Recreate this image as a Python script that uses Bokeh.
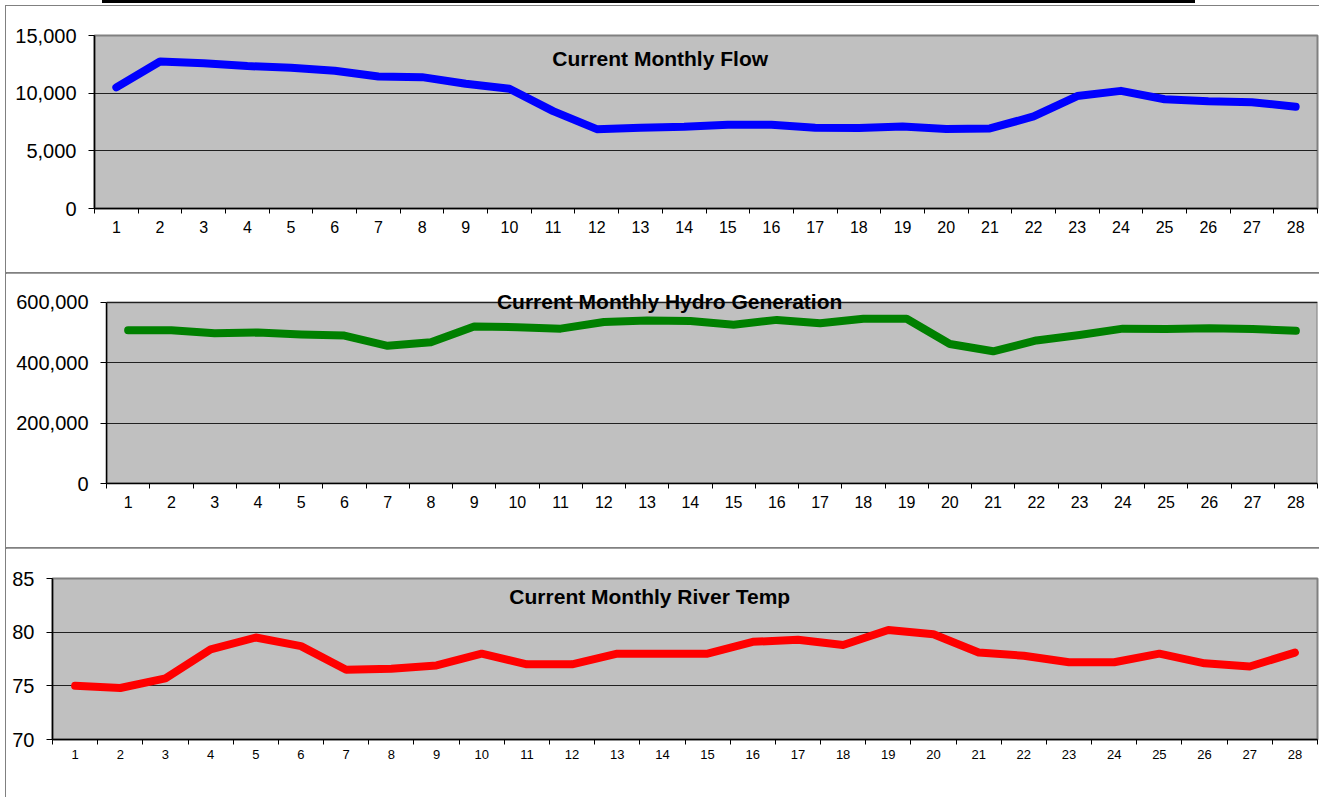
from bokeh.plotting import figure
from bokeh.models import Range1d, FixedTicker, NumeralTickFormatter, Label, ColumnDataSource, Div
from bokeh.embed import file_html
from bokeh.resources import INLINE

# ---------------- data ----------------
months = list(range(1, 29))
flow = [10500, 12750, 12600, 12350, 12200, 11950, 11450, 11390, 10810, 10380,
        8440, 6880, 7000, 7080, 7260, 7260, 7000, 6970, 7110, 6900,
        6940, 7980, 9750, 10200, 9470, 9300, 9220, 8820]
hydro = [508000, 508000, 498000, 500000, 494000, 490000, 456000, 468000, 520000, 518000,
         513000, 535000, 540000, 538000, 526000, 542000, 531000, 546000, 546000, 462000,
         438000, 474000, 492000, 513000, 512000, 514000, 512000, 506000]
temp = [75.0, 74.8, 75.7, 78.4, 79.5, 78.7, 76.5, 76.6, 76.9, 78.0,
        77.0, 77.0, 78.0, 78.0, 78.0, 79.1, 79.3, 78.8, 80.2, 79.8,
        78.1, 77.8, 77.2, 77.2, 78.0, 77.1, 76.8, 78.1]

titles = ["Current Monthly Flow", "Current Monthly Hydro Generation", "Current Monthly River Temp"]
y_ticks_flow = [0, 5000, 10000, 15000]
y_ticks_hydro = [0, 200000, 400000, 600000]
y_ticks_temp = [70, 75, 80, 85]

FONT = "Liberation Sans"
BG = "#C0C0C0"
BORDER = "#808080"


def make_panel(values, color, yticks, title, title_x, title_y, height,
               b_left, b_top, b_bottom, xfont, yfmt, y_end=None, extra_styles=None,
               x_standoff=7):
    src = ColumnDataSource(dict(x=months, y=values))
    y0, y1 = yticks[0], yticks[-1]
    p = figure(width=1313, height=height, output_backend="svg", toolbar_location=None,
               x_range=Range1d(0.5, len(months) + 0.5),
               y_range=Range1d(y0, y_end if y_end is not None else y1),
               min_border_left=b_left, min_border_right=2,
               min_border_top=b_top, min_border_bottom=b_bottom)
    p.border_fill_color = "white"
    styles = {"margin-left": "6px", "outline": "1px solid " + BORDER}
    if extra_styles:
        styles.update(extra_styles)
    p.styles = styles

    if y_end is None:
        p.background_fill_color = BG
        p.outline_line_color = BORDER
        p.outline_line_width = 2
    else:
        # plot area is only part of the frame: room for the title on top
        p.background_fill_color = "white"
        p.outline_line_color = None
        p.quad(left=[0.5], right=[len(months) + 0.5], bottom=[y0], top=[y1],
               fill_color=BG, line_color=BORDER, line_width=2, level="image")

    p.line("x", "y", source=src, line_color=color, line_width=8,
           line_cap="round", line_join="round")

    # x axis: labels at category centers, ticks at category boundaries
    p.xaxis.ticker = FixedTicker(ticks=months,
                                 minor_ticks=[m - 0.5 for m in months] + [months[-1] + 0.5])
    p.xaxis.major_tick_out = 0
    p.xaxis.major_tick_in = 0
    p.xaxis.minor_tick_out = 5
    p.xaxis.minor_tick_in = 0
    p.xaxis.minor_tick_line_color = "black"
    p.xaxis.axis_line_color = "black"
    p.xaxis.axis_line_width = 1.5
    p.xaxis.major_label_text_font = FONT
    p.xaxis.major_label_text_font_size = xfont
    p.xaxis.major_label_text_color = "black"
    p.xaxis.major_label_standoff = x_standoff
    p.xgrid.visible = False

    p.yaxis.ticker = FixedTicker(ticks=yticks)
    p.yaxis.bounds = (y0, y1)
    p.yaxis.formatter = NumeralTickFormatter(format=yfmt)
    p.yaxis.major_tick_out = 6
    p.yaxis.major_tick_in = 0
    p.yaxis.minor_tick_line_color = None
    p.yaxis.axis_line_color = "black"
    p.yaxis.axis_line_width = 1.5
    p.yaxis.major_tick_line_color = "black"
    p.yaxis.major_label_text_font = FONT
    p.yaxis.major_label_text_font_size = "20px"
    p.yaxis.major_label_text_color = "black"
    p.yaxis.major_label_standoff = 12
    p.ygrid.ticker = FixedTicker(ticks=yticks)
    p.ygrid.grid_line_color = "#202020"
    p.ygrid.grid_line_width = 1

    p.add_layout(Label(x=title_x, y=title_y, text=title, text_font=FONT,
                       text_font_size="21px", text_font_style="bold",
                       text_color="black", text_align="center", text_baseline="middle"))
    return p


top_bar = Div(text="", width=1093, height=3, margin=(0, 0, 0, 102),
              styles={"background-color": "black"})

p1 = make_panel(flow, "#0000FF", y_ticks_flow, titles[0], 13.45, 13000,
                267, 88, 29, 65, "16px", "0,0", extra_styles={"margin-top": "3px"})
p2 = make_panel(hydro, "#008000", y_ticks_hydro, titles[1], 13.52, 603000,
                275, 100, 15, 65, "16px", "0,0", y_end=646000)
p3 = make_panel(temp, "#FF0000", y_ticks_temp, titles[2], 13.72, 83.3,
                249, 46, 30, 58, "13px", "0", x_standoff=5)

open("out.html", "w").write(file_html([top_bar, p1, p2, p3], INLINE))
